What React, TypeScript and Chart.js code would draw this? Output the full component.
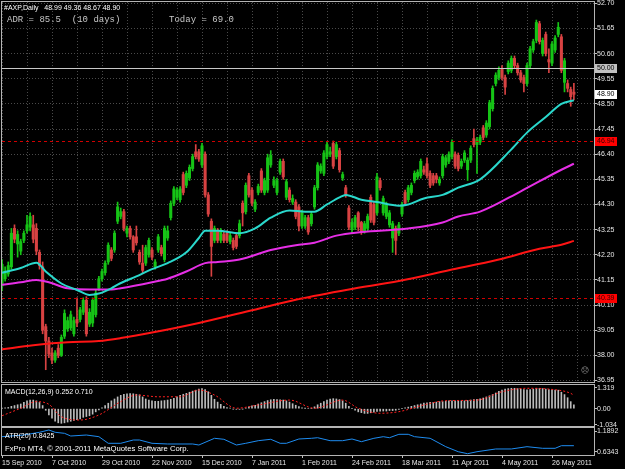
import React, { useEffect, useRef } from 'react';
import { Chart, registerables } from 'chart.js';

Chart.register(...registerables);

// ---------------- data ----------------
const dateLabels = ['15 Sep 2010', '7 Oct 2010', '29 Oct 2010', '22 Nov 2010', '15 Dec 2010', '7 Jan 2011',
  '1 Feb 2011', '24 Feb 2011', '18 Mar 2011', '11 Apr 2011', '4 May 2011', '26 May 2011'];
const barsPerLabel = 16;

const priceTicks = [52.70, 51.65, 50.60, 49.55, 48.50, 47.45, 46.40, 45.35, 44.30, 43.25, 42.20, 41.15, 40.10, 39.05, 38.00, 36.95];
const macdTicks = [1.319, 0, -1.034];
const atrTicks = [1.1892, 0.6343];

const opens = [
  40.9, 41.2, 41.4, 41.7, 43.3, 42.65, 42.35, 42.8, 43.2, 43.35,
  43.45, 43.3, 42.3, 41.7, 39.2, 38.6, 38.1, 37.8, 38.3, 38.0,
  38.8, 39.1, 39.15, 38.9, 39.5, 39.5, 39.8, 40.3, 39.3, 39.35,
  39.7, 40.8, 41.2, 41.45, 41.9, 42.4, 42.4, 43.6, 43.8, 44.0,
  43.1, 43.3, 42.95, 42.95, 42.3, 41.85, 41.85, 42.2, 42.4, 41.7,
  42.4, 42.5, 42.0, 42.9, 43.75, 44.35, 44.6, 44.5, 45.55, 45.1,
  45.4, 45.8, 46.5, 46.5, 45.95, 46.4, 44.7, 43.6, 42.8, 43.2,
  42.8, 43.05, 43.1, 42.75, 42.8, 43.0, 43.0, 44.35, 44.0, 45.5,
  44.9, 44.1, 44.8, 45.7, 44.8, 44.9, 45.95, 45.1, 44.8, 45.65,
  46.1, 44.6, 44.9, 44.4, 44.4, 44.2, 43.4, 43.4, 43.75, 43.5,
  44.2, 45.0, 45.7, 45.6, 46.3, 46.4, 46.85, 46.3, 46.55, 45.4,
  45.0, 44.15, 43.25, 43.35, 43.95, 43.55, 43.2, 43.3, 44.6, 44.3,
  43.95, 45.3, 43.95, 43.8, 43.45, 42.9, 43.3, 43.1, 43.9, 44.8,
  44.5, 44.8, 45.3, 45.45, 45.5, 45.75, 46.0, 45.6, 45.5, 45.5,
  45.2, 45.5, 45.95, 46.1, 46.3, 46.4, 46.35, 45.9, 46.15, 45.75,
  46.15, 47.05, 46.8, 46.9, 47.5, 47.2, 47.55, 48.3, 49.35, 49.6,
  49.95, 49.6, 49.85, 49.9, 50.4, 50.1, 49.8, 49.6, 49.35, 50.1,
  50.75, 51.15, 51.85, 50.6, 51.4, 50.35, 50.2, 50.75, 51.4, 51.3,
  49.4, 49.35, 49.1, 48.99,
];
const highs = [
  42.0, 41.7, 41.9, 43.3, 43.45, 43.2, 42.85, 43.2, 43.85, 43.95,
  43.85, 43.5, 42.4, 41.9, 39.3, 38.75, 38.3, 38.2, 38.45, 38.85,
  39.9, 39.6, 39.85, 39.6, 40.4, 40.0, 40.4, 40.45, 39.95, 40.4,
  40.75, 41.3, 41.6, 41.95, 42.7, 42.5, 43.2, 44.4, 44.15, 44.1,
  43.4, 43.4, 43.0, 43.4, 42.4, 42.6, 42.6, 42.9, 42.5, 42.0,
  43.05, 42.6, 43.4, 43.4, 44.45, 45.05, 45.0, 45.05, 45.65, 45.7,
  45.95, 46.4, 46.8, 46.6, 46.85, 46.5, 44.8, 43.7, 43.4, 43.3,
  43.3, 43.15, 43.2, 43.1, 42.9, 43.1, 43.65, 44.45, 45.2, 45.6,
  45.0, 44.5, 45.15, 45.8, 45.4, 46.4, 46.55, 45.45, 45.4, 46.2,
  46.2, 45.35, 45.0, 44.7, 44.5, 44.3, 44.05, 43.85, 43.85, 44.0,
  45.1, 46.05, 46.0, 46.55, 46.9, 46.7, 46.95, 46.9, 46.65, 45.65,
  45.1, 44.25, 43.7, 43.85, 44.0, 43.6, 43.6, 43.9, 44.7, 44.4,
  45.6, 45.4, 44.65, 44.4, 44.05, 43.6, 43.4, 43.55, 44.4, 44.9,
  45.1, 45.2, 45.7, 45.75, 46.2, 45.9, 46.25, 45.7, 45.6, 45.6,
  45.45, 46.4, 46.35, 46.5, 47.0, 46.5, 46.45, 46.2, 46.55, 46.25,
  46.75, 47.45, 47.1, 47.2, 47.6, 47.8, 48.65, 49.25, 49.8, 50.05,
  50.1, 49.7, 50.3, 50.5, 50.5, 50.2, 49.9, 49.7, 50.2, 50.9,
  51.2, 52.0, 51.95, 51.25, 51.5, 50.8, 51.1, 51.35, 51.9, 51.4,
  50.4, 49.5, 49.2, 49.36,
];
const lows = [
  40.7, 41.1, 41.3, 41.6, 42.7, 42.1, 42.2, 42.7, 43.1, 43.2,
  42.7, 42.2, 41.6, 38.9, 37.4, 37.9, 37.65, 37.7, 37.9, 37.95,
  38.7, 39.0, 39.05, 38.8, 39.2, 39.4, 39.7, 38.8, 39.2, 39.2,
  39.6, 40.7, 41.1, 41.35, 41.8, 41.95, 42.3, 43.5, 43.7, 43.2,
  42.95, 42.85, 42.3, 42.6, 41.8, 41.45, 41.75, 42.1, 42.0, 41.6,
  42.3, 42.15, 41.9, 42.8, 43.65, 44.25, 44.5, 44.4, 44.7, 45.0,
  45.3, 45.7, 46.2, 46.1, 45.85, 44.6, 43.8, 41.3, 42.7, 42.7,
  42.7, 42.7, 42.7, 42.65, 42.4, 42.45, 42.9, 43.4, 43.9, 44.6,
  44.25, 44.0, 44.7, 44.8, 44.7, 44.8, 45.85, 45.0, 44.7, 45.55,
  45.35, 44.5, 44.4, 44.3, 43.7, 43.2, 43.3, 43.3, 43.05, 43.4,
  44.1, 44.9, 45.6, 45.5, 46.2, 46.3, 45.8, 46.2, 45.65, 45.3,
  44.6, 43.25, 43.1, 43.25, 43.2, 43.05, 43.1, 43.2, 43.55, 43.45,
  43.85, 44.9, 43.85, 43.7, 43.35, 42.3, 42.2, 43.0, 43.8, 44.25,
  44.4, 44.7, 45.2, 45.35, 45.4, 45.55, 45.4, 45.0, 45.1, 45.2,
  45.1, 45.4, 45.85, 46.0, 46.2, 45.8, 45.7, 45.8, 46.05, 45.3,
  46.05, 46.7, 45.6, 46.8, 47.0, 47.1, 47.45, 48.2, 49.25, 49.5,
  49.5, 48.9, 49.75, 49.8, 50.0, 49.7, 49.4, 49.0, 49.25, 50.0,
  50.65, 51.05, 51.0, 50.5, 50.5, 49.8, 50.1, 50.65, 51.3, 49.8,
  49.0, 49.0, 48.4, 48.67,
];
const closes = [
  41.8, 41.5, 41.75, 43.1, 42.85, 43.05, 42.75, 43.1, 43.45, 43.8,
  42.85, 42.35, 41.75, 39.05, 38.6, 38.05, 37.8, 38.1, 38.0, 38.75,
  39.75, 39.45, 39.7, 39.45, 39.35, 39.9, 40.3, 38.9, 39.8, 40.3,
  40.6, 41.2, 41.5, 41.85, 42.6, 42.05, 43.1, 44.2, 44.0, 43.3,
  43.3, 42.95, 42.4, 42.7, 41.9, 41.55, 42.5, 42.8, 42.1, 41.9,
  42.95, 42.25, 43.3, 43.2, 44.35, 44.95, 44.9, 44.95, 44.8, 45.6,
  45.85, 46.3, 46.3, 46.2, 46.75, 44.7, 43.9, 42.55, 43.3, 42.8,
  43.2, 42.8, 42.8, 43.0, 42.5, 42.55, 43.5, 43.95, 45.1, 44.7,
  44.35, 44.4, 45.05, 44.9, 45.3, 46.25, 46.35, 45.3, 45.3, 46.1,
  45.45, 45.25, 44.5, 44.55, 43.8, 43.4, 43.95, 43.75, 43.15, 43.9,
  45.0, 45.95, 45.9, 46.45, 46.8, 46.5, 45.9, 46.8, 45.75, 45.55,
  44.7, 43.35, 43.55, 43.75, 43.35, 43.15, 43.5, 43.8, 43.65, 43.55,
  45.45, 45.0, 44.55, 44.3, 43.95, 43.5, 42.8, 43.45, 44.3, 44.35,
  45.0, 45.1, 45.6, 45.65, 46.1, 45.65, 45.5, 45.1, 45.2, 45.35,
  45.35, 46.3, 46.25, 46.4, 46.9, 45.9, 45.8, 46.1, 46.45, 46.15,
  46.65, 46.8, 47.0, 47.1, 47.1, 47.7, 48.55, 49.15, 49.7, 49.9,
  49.6, 49.2, 50.2, 50.4, 50.1, 49.8, 49.5, 49.35, 50.1, 50.8,
  51.1, 51.9, 51.1, 51.15, 50.6, 50.25, 51.0, 51.25, 51.7, 49.9,
  50.3, 49.15, 48.8, 48.9,
];

// moving averages (read at sample bars)
const maCyanIdx = [0, 6, 11, 14, 19, 24, 28, 31, 35, 37, 43, 48, 53, 59, 63, 65, 69, 76, 81, 86, 92, 97, 100, 104, 108, 110, 115, 120, 127, 130, 135, 141, 146, 153, 163, 168, 174, 179, 183];
const maCyanVal = [41.45, 41.65, 41.87, 41.5, 41.0, 40.73, 40.52, 40.58, 40.8, 40.95, 41.3, 41.6, 41.85, 42.3, 42.9, 43.2, 43.2, 43.1, 43.3, 43.75, 44.05, 44.0, 44.0, 44.3, 44.6, 44.7, 44.5, 44.4, 44.25, 44.3, 44.55, 44.7, 45.0, 45.35, 46.6, 47.3, 47.95, 48.5, 48.65];
const maMagentaIdx = [0, 6, 11, 15, 21, 28, 35, 38, 48, 53, 59, 65, 69, 76, 86, 94, 100, 107, 115, 130, 141, 146, 153, 166, 179, 183];
const maMagentaVal = [40.95, 41.05, 41.15, 41.05, 40.8, 40.75, 40.75, 40.8, 41.05, 41.2, 41.5, 41.85, 41.9, 42.0, 42.4, 42.6, 42.7, 43.0, 43.15, 43.3, 43.55, 43.8, 44.0, 44.85, 45.75, 46.0];
const maRedIdx = [0, 10, 16, 21, 31, 38, 48, 63, 79, 95, 111, 127, 143, 159, 172, 179, 183];
const maRedVal = [38.25, 38.42, 38.5, 38.55, 38.6, 38.72, 38.95, 39.35, 39.85, 40.35, 40.75, 41.1, 41.55, 42.0, 42.45, 42.62, 42.78];

// levels
const grayLevels = [50.0];
const redLevels = [46.94, 40.39];
const bidPrice = 48.90;

// MACD(12,26,9)
const macdMain = [
  0.02, 0.05, 0.08, 0.15, 0.2, 0.25, 0.3, 0.4, 0.5, 0.55,
  0.55, 0.5, 0.4, 0.2, -0.1, -0.4, -0.6, -0.8, -0.9, -0.93,
  -0.9, -0.85, -0.8, -0.75, -0.7, -0.65, -0.55, -0.5, -0.45, -0.35,
  -0.2, -0.08, 0.05, 0.2, 0.35, 0.5, 0.62, 0.75, 0.85, 0.92,
  0.95, 0.97, 0.95, 0.92, 0.88, 0.75, 0.62, 0.55, 0.5, 0.47,
  0.47, 0.5, 0.52, 0.55, 0.6, 0.66, 0.75, 0.85, 0.92, 0.98,
  1.05, 1.12, 1.18, 1.25, 1.28, 1.22, 1.08, 0.85, 0.6, 0.42,
  0.28, 0.15, 0.07, 0.03, -0.02, -0.04, -0.04, -0.02, 0.04, 0.12,
  0.18, 0.22, 0.3, 0.38, 0.45, 0.52, 0.57, 0.6, 0.58, 0.57,
  0.55, 0.5, 0.42, 0.32, 0.22, 0.13, 0.06, 0.02, 0.0, 0.02,
  0.12, 0.25, 0.35, 0.45, 0.55, 0.62, 0.64, 0.62, 0.58, 0.5,
  0.35, 0.15, 0.0, -0.1, -0.2, -0.25, -0.3, -0.3, -0.26, -0.22,
  -0.18, -0.15, -0.15, -0.15, -0.12, -0.12, -0.1, -0.05, 0.0, 0.05,
  0.1, 0.15, 0.2, 0.25, 0.3, 0.35, 0.38, 0.4, 0.4, 0.42,
  0.45, 0.45, 0.48, 0.5, 0.5, 0.5, 0.5, 0.5, 0.5, 0.52,
  0.55, 0.58, 0.6, 0.63, 0.68, 0.75, 0.82, 0.9, 1.0, 1.1,
  1.18, 1.25, 1.28, 1.3, 1.3, 1.28, 1.25, 1.22, 1.2, 1.22,
  1.25, 1.3, 1.3, 1.28, 1.25, 1.22, 1.2, 1.18, 1.18, 1.05,
  0.9, 0.7, 0.45, 0.25,
];
const macdSignalIdx = [0, 6, 11, 15, 19, 25, 31, 38, 43, 50, 57, 63, 68, 75, 82, 92, 100, 109, 114, 121, 127, 135, 142, 152, 160, 168, 175, 182, 183];
const macdSignalVal = [-0.45, 0.03, 0.45, 0.28, -0.51, -0.72, -0.4, 0.45, 0.87, 0.76, 0.76, 1.19, 0.87, 0.03, 0.24, 0.55, 0.03, 0.55, 0.03, -0.29, -0.19, 0.24, 0.51, 0.55, 1.08, 1.3, 1.25, 0.98, 0.85];

// ATR(20)
const atrIdx = [0, 7, 12, 15, 17, 20, 22, 27, 31, 34, 38, 42, 44, 48, 53, 61, 63, 68, 71, 75, 78, 82, 86, 89, 91, 95, 99, 101, 105, 109, 112, 115, 119, 122, 124, 127, 130, 132, 137, 142, 146, 149, 152, 158, 163, 168, 173, 177, 179, 183];
const atrVal = [1.039, 1.083, 1.155, 1.216, 1.155, 1.128, 1.057, 1.083, 1.039, 0.864, 0.864, 0.951, 0.951, 0.864, 0.846, 0.846, 0.819, 0.996, 0.97, 0.819, 0.864, 0.933, 0.97, 0.864, 0.864, 0.978, 0.996, 1.012, 0.933, 0.933, 0.978, 0.907, 0.996, 1.039, 1.012, 1.102, 1.102, 1.039, 0.996, 0.775, 0.642, 0.589, 0.642, 0.714, 0.714, 0.775, 0.732, 0.732, 0.801, 0.801];

// ---------------- styling ----------------
const FONT = "'Liberation Sans', Arial, sans-serif";
const AXIS_W = 31;
const X_MAX = 189.44;
const GRID = '#4a4a4a';
const FRAME = '#b4b4b4';
const LABEL = '#e6e6e6';
const BULL = '#16c416';
const BEAR = '#d84242';

const candleColors = closes.map((c, i) => (c >= opens[i] ? BULL : BEAR));
const pts = (idx: number[], val: number[]) => idx.map((x, k) => ({ x, y: val[k] }));

const framePlugin = {
  id: 'frame',
  afterDraw(chart: any) {
    const { ctx, chartArea: a } = chart;
    ctx.save();
    ctx.strokeStyle = FRAME;
    ctx.lineWidth = 1;
    ctx.strokeRect(a.left - 0.5, a.top - 0.5, a.right - a.left + 1, a.bottom - a.top + 1);
    ctx.restore();
  },
};

const levelPlugin = {
  id: 'levels',
  afterDatasetsDraw(chart: any) {
    const { ctx, chartArea: a } = chart;
    const ys = chart.scales.y;
    ctx.save();
    ctx.lineWidth = 1;
    grayLevels.forEach((v) => {
      const py = Math.round(ys.getPixelForValue(v)) + 0.5;
      ctx.strokeStyle = '#c8c8c8';
      ctx.setLineDash([]);
      ctx.beginPath(); ctx.moveTo(a.left, py); ctx.lineTo(a.right, py); ctx.stroke();
    });
    redLevels.forEach((v) => {
      const py = Math.round(ys.getPixelForValue(v)) + 0.5;
      ctx.strokeStyle = '#d00000';
      ctx.setLineDash([3, 3]);
      ctx.beginPath(); ctx.moveTo(a.left, py); ctx.lineTo(a.right, py); ctx.stroke();
    });
    ctx.restore();
  },
  afterDraw(chart: any) {
    const { ctx, chartArea: a } = chart;
    const ys = chart.scales.y;
    const box = (v: number, fill: string, color: string) => {
      const py = Math.round(ys.getPixelForValue(v));
      ctx.fillStyle = fill;
      ctx.fillRect(a.right + 1, py - 4, 22, 9);
      ctx.fillStyle = color;
      ctx.font = `7px ${FONT}`;
      ctx.textBaseline = 'middle';
      ctx.textAlign = 'left';
      ctx.fillText(v.toFixed(2), a.right + 3, py + 0.5);
    };
    ctx.save();
    grayLevels.forEach((v) => box(v, '#c0c0c0', '#000'));
    box(bidPrice, '#ffffff', '#000');
    redLevels.forEach((v) => box(v, '#ff0000', '#3a0000'));
    ctx.restore();
  },
};

const baseX = (gridOn: boolean) => ({
  type: 'linear' as const,
  min: 0,
  max: X_MAX,
  offset: false,
  grid: { display: gridOn, color: GRID, offset: false, drawTicks: false, lineWidth: 1 },
  border: { display: false, dash: [1, 2] },
  ticks: { display: false },
  afterBuildTicks: (s: any) => {
    const t: any[] = [];
    for (let v = 0; v <= opens.length; v += barsPerLabel / 2) t.push({ value: v });
    s.ticks = t;
  },
  afterFit: (s: any) => { s.height = 0; s.paddingLeft = 0; s.paddingRight = 0; },
});

const yAxis = (min: number, max: number, ticks: number[], fmt: (v: number) => string, grid: boolean) => ({
  type: 'linear' as const,
  position: 'right' as const,
  min,
  max,
  grid: { drawOnChartArea: grid, color: GRID, drawTicks: true, tickLength: 3, tickColor: '#c0c0c0', tickWidth: 1 },
  border: { display: false, dash: [1, 2] },
  ticks: { color: LABEL, font: { family: FONT, size: 7 }, padding: 0, autoSkip: false, callback: (v: any) => fmt(Number(v)) },
  afterBuildTicks: (s: any) => { s.ticks = ticks.map((value) => ({ value })); },
  afterFit: (s: any) => { s.width = AXIS_W; s.paddingTop = 0; s.paddingBottom = 0; },
});

const common = {
  responsive: false,
  animation: false as const,
  devicePixelRatio: 1,
  events: [] as any[],
  plugins: { legend: { display: false }, tooltip: { enabled: false } },
};

export default function App() {
  const mainRef = useRef<HTMLCanvasElement>(null);
  const macdRef = useRef<HTMLCanvasElement>(null);
  const atrRef = useRef<HTMLCanvasElement>(null);

  useEffect(() => {
    document.body.style.margin = '0';
    document.body.style.background = '#000';

    const main = new Chart(mainRef.current as HTMLCanvasElement, {
      type: 'bar',
      data: {
        datasets: [
          { type: 'line', label: 'MA fast', data: pts(maCyanIdx, maCyanVal), borderColor: '#2ad8cc', borderWidth: 2, pointRadius: 0, cubicInterpolationMode: 'monotone', order: 0 } as any,
          { type: 'line', label: 'MA mid', data: pts(maMagentaIdx, maMagentaVal), borderColor: '#e62ee6', borderWidth: 2, pointRadius: 0, cubicInterpolationMode: 'monotone', order: 0 } as any,
          { type: 'line', label: 'MA slow', data: pts(maRedIdx, maRedVal), borderColor: '#ff1414', borderWidth: 2, pointRadius: 0, cubicInterpolationMode: 'monotone', order: 0 } as any,
          { type: 'bar', label: 'body', data: opens.map((o, i) => ({ x: i, y: [o, closes[i]] })), backgroundColor: candleColors, barThickness: 2.4, minBarLength: 1, grouped: false, borderWidth: 0, order: 2 } as any,
          { type: 'bar', label: 'wick', data: lows.map((l, i) => ({ x: i, y: [l, highs[i]] })), backgroundColor: candleColors, barThickness: 1, grouped: false, borderWidth: 0, order: 3 } as any,
        ],
      },
      options: {
        ...common,
        layout: { padding: { left: 2, right: 0, top: 2, bottom: 2 } },
        scales: {
          x: baseX(true) as any,
          y: yAxis(36.887, 52.754, priceTicks, (v) => v.toFixed(2), true) as any,
        },
      } as any,
      plugins: [levelPlugin, framePlugin],
    });

    const macd = new Chart(macdRef.current as HTMLCanvasElement, {
      type: 'bar',
      data: {
        datasets: [
          { type: 'line', label: 'Signal', data: pts(macdSignalIdx, macdSignalVal), borderColor: '#ff2020', borderWidth: 1, borderDash: [2, 2], pointRadius: 0, cubicInterpolationMode: 'monotone', order: 0 } as any,
          { type: 'bar', label: 'MACD', data: macdMain.map((v, i) => ({ x: i, y: v })), backgroundColor: '#bcbcbc', barThickness: 1, grouped: false, borderWidth: 0, order: 1 } as any,
        ],
      },
      options: {
        ...common,
        layout: { padding: { left: 2, right: 0, top: 1, bottom: 1 } },
        scales: {
          x: baseX(false) as any,
          y: yAxis(-1.102, 1.5096, macdTicks, (v) => (v === 0 ? '0.00' : v.toFixed(3)), false) as any,
        },
      } as any,
      plugins: [framePlugin],
    });

    const atr = new Chart(atrRef.current as HTMLCanvasElement, {
      type: 'line',
      data: {
        datasets: [
          { label: 'ATR', data: pts(atrIdx, atrVal), borderColor: '#1e8cf0', borderWidth: 1, pointRadius: 0, tension: 0 } as any,
        ],
      },
      options: {
        ...common,
        layout: { padding: { left: 2, right: 0, top: 1, bottom: 0 } },
        scales: {
          x: {
            type: 'linear',
            min: 0,
            max: X_MAX,
            offset: false,
            grid: { drawOnChartArea: false, drawTicks: true, tickLength: 3, tickColor: '#c0c0c0', offset: false },
            border: { display: false },
            ticks: {
              color: LABEL, font: { family: FONT, size: 7 }, padding: 1, align: 'start',
              maxRotation: 0, minRotation: 0, autoSkip: false,
              callback: (_v: any, idx: number) => dateLabels[idx] ?? '',
            },
            afterBuildTicks: (s: any) => { s.ticks = dateLabels.map((_, k) => ({ value: k * barsPerLabel })); },
            afterFit: (s: any) => { s.height = 14; s.paddingLeft = 0; s.paddingRight = 0; },
          } as any,
          y: yAxis(0.555, 1.2685, atrTicks, (v) => v.toFixed(4), false) as any,
        },
      } as any,
      plugins: [framePlugin],
    });

    return () => { main.destroy(); macd.destroy(); atr.destroy(); };
  }, []);

  const txt = (extra: React.CSSProperties): React.CSSProperties => ({
    position: 'absolute', whiteSpace: 'pre', fontFamily: FONT, fontSize: 7, lineHeight: '8px', color: '#ffffff', ...extra,
  });

  return (
    <div style={{ position: 'fixed', left: 0, top: 0, width: 625, height: 469, background: '#000', overflow: 'hidden' }}>
      <canvas ref={mainRef} width={625} height={384} style={{ position: 'absolute', left: 0, top: 0, width: 625, height: 384 }} />
      <canvas ref={macdRef} width={625} height={43} style={{ position: 'absolute', left: 0, top: 384, width: 625, height: 43 }} />
      <canvas ref={atrRef} width={625} height={42} style={{ position: 'absolute', left: 0, top: 427, width: 625, height: 42 }} />
      <div style={txt({ left: 4, top: 4 })}>{'#AXP,Daily   48.99 49.36 48.67 48.90'}</div>
      <div style={txt({ left: 7, top: 15, fontFamily: "'Liberation Mono', 'Courier New', monospace", fontSize: 9, lineHeight: '10px', color: '#c8c8c8' })}>
        {'ADR = 85.5  (10 days)         Today = 69.0'}
      </div>
      <div style={txt({ left: 5, top: 388 })}>{'MACD(12,26,9) 0.252 0.710'}</div>
      <div style={txt({ left: 5, top: 432 })}>{'ATR(20) 0.8425'}</div>
      <div style={txt({ left: 5, top: 445, fontSize: 7.7 })}>{'FxPro MT4, © 2001-2011 MetaQuotes Software Corp.'}</div>
      <div style={txt({ left: 581, top: 367, fontFamily: "'DejaVu Sans', sans-serif", fontSize: 8, color: '#9a9a9a' })}>{'☹'}</div>
    </div>
  );
}
